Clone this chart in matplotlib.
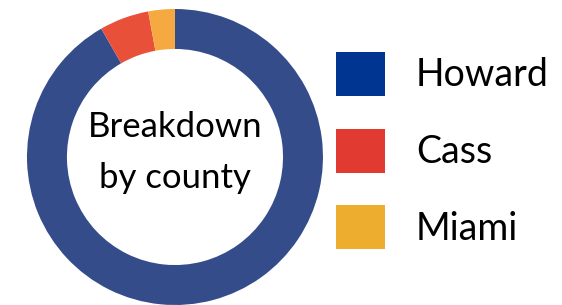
import matplotlib.pyplot as plt
from matplotlib.patches import Patch

plt.rcParams['font.family'] = ['Lato', 'DejaVu Sans']

counties = ['Howard', 'Cass', 'Miami']
shares = [91.7, 5.4, 2.9]
ring_colors = ['#344c8a', '#e8503a', '#f5a940']
key_colors = ['#003591', '#e03a31', '#edae2f']

fig = plt.figure(figsize=(5.62, 3.05), dpi=100)
ax = fig.add_axes([0.048, 0.0, 0.5267, 0.9705])
ax.pie(shares, colors=ring_colors, startangle=90, counterclock=False,
       radius=1.0, wedgeprops=dict(width=0.27, edgecolor='none'))
ax.set_xlim(-1, 1)
ax.set_ylim(-1, 1)
ax.set_aspect('equal')
ax.axis('off')

ax.text(0, 0.03, 'Breakdown\nby county', ha='center', va='center',
        fontsize=25, linespacing=1.7, color='black')

handles = [Patch(facecolor=c, edgecolor='none') for c in key_colors]
fig.legend(handles, counties, loc='upper left', bbox_to_anchor=(0.5975, 0.83),
           frameon=False, fontsize=27, handlelength=1.31, handleheight=1.43,
           handletextpad=0.83, labelspacing=0.87, borderpad=0, borderaxespad=0)

plt.savefig('out.png', dpi=100)
